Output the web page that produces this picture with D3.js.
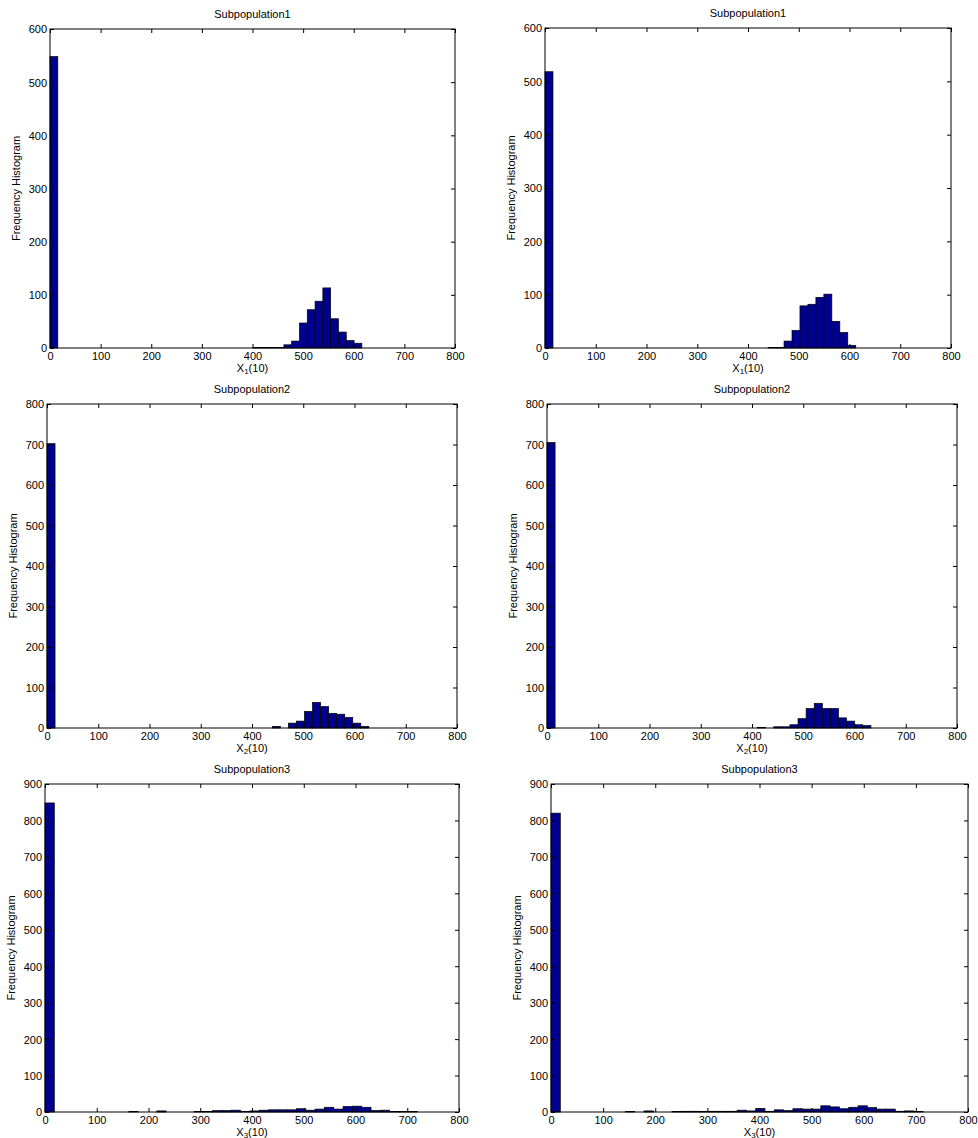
<!DOCTYPE html>
<html>
<head>
<meta charset="utf-8">
<script src="https://cdn.jsdelivr.net/npm/d3@7"></script>
<style>
  body { margin: 0; background: #fff; }
  text { font-family: "Liberation Sans", Arial, Helvetica, sans-serif; fill: #000; }
</style>
</head>
<body>
<svg id="fig" width="978" height="1138"></svg>
<script>
// Histogram counts per bin (bin 0 starts at 0), one array per panel.
const subpop1Left  = [548, 0,0,0,0,0,0,0,0,0, 0,0,0,0,0,0,0,0,0,0, 0,0,0,0,0,0,1,1,1,1, 6,13,47,72,88,113,55,30,14,9];
const subpop1Right = [518, 0,0,0,0,0,0,0,0,0, 0,0,0,0,0,0,0,0,0,0, 0,0,0,0,0,0,0,0,1,1, 13,33,79,82,95,101,50,29,5,0];
const subpop2Left  = [702, 0,0,0,0,0,0,0,0,0, 0,0,0,0,0,0,0,0,0,0, 0,0,0,0,0,0,0,0,4,0, 12,17,41,63,53,36,34,26,12,4];
const subpop2Right = [705, 0,0,0,0,0,0,0,0,0, 0,0,0,0,0,0,0,0,0,0, 0,0,0,0,0,0,1,0,3,3, 8,23,48,61,48,48,25,17,8,6];
const subpop3Left  = [848, 0,0,0,0,0,0,0,0,1, 0,0,3,0,0,0,1,1,4,4, 5,1,3,5,6,6,6,9,5,8, 13,8,15,16,13,4,5,1,1,1];
const subpop3Right = [820, 0,0,0,0,0,0,0,1,0, 3,0,0,1,2,2,1,2,2,2, 5,3,10,2,6,4,9,8,8,17, 14,9,13,17,12,8,8,2,3,1];

// Bin widths (in X units) of each histogram
const binWidths = [15.4, 15.7, 15.7, 15.8, 18, 17.85];

// Axis tick labels
const xTickValues = [0, 100, 200, 300, 400, 500, 600, 700, 800];
const yTicks600 = [0, 100, 200, 300, 400, 500, 600];
const yTicks800 = [0, 100, 200, 300, 400, 500, 600, 700, 800];
const yTicks900 = [0, 100, 200, 300, 400, 500, 600, 700, 800, 900];

const titles = ["Subpopulation1", "Subpopulation1", "Subpopulation2", "Subpopulation2", "Subpopulation3", "Subpopulation3"];
const subscripts = ["1", "1", "2", "2", "3", "3"];
const yLabel = "Frequency Histogram";

// Panel frames (pixel boxes of each axes)
const panels = [
  { counts: subpop1Left,  yTicks: yTicks600, box: [50, 29, 455, 348] },
  { counts: subpop1Right, yTicks: yTicks600, box: [545, 28, 951, 348] },
  { counts: subpop2Left,  yTicks: yTicks800, box: [47, 404, 457, 728] },
  { counts: subpop2Right, yTicks: yTicks800, box: [547, 404, 957, 728] },
  { counts: subpop3Left,  yTicks: yTicks900, box: [45, 784, 459, 1112] },
  { counts: subpop3Right, yTicks: yTicks900, box: [551, 784, 968, 1112] }
];

const svg = d3.select("#fig");
svg.append("rect").attr("width", 978).attr("height", 1138).attr("fill", "#fff");

const barFill = "#00008f";
const tickLen = 4;

panels.forEach((p, k) => {
  const [x0, y0, x1, y1] = p.box;
  const yMax = p.yTicks[p.yTicks.length - 1];
  const x = d3.scaleLinear().domain([0, 800]).range([x0, x1]);
  const y = d3.scaleLinear().domain([0, yMax]).range([y1, y0]);
  const w = binWidths[k];
  const g = svg.append("g");

  // bars
  g.selectAll("rect.bar")
    .data(p.counts.map((c, i) => ({ i, c })).filter(d => d.c > 0))
    .enter().append("rect")
    .attr("class", "bar")
    .attr("x", d => x(d.i * w))
    .attr("width", d => x((d.i + 1) * w) - x(d.i * w))
    .attr("y", d => y(d.c))
    .attr("height", d => y(0) - y(d.c))
    .attr("fill", barFill)
    .attr("stroke", "#000")
    .attr("stroke-width", 0.7);

  // bottom axis (ticks point inward) and mirrored top ticks
  const bottom = g.append("g").attr("transform", `translate(0,${y1})`)
    .call(d3.axisBottom(x).tickValues(xTickValues).tickSize(-tickLen).tickPadding(0).tickFormat(d3.format("d")));
  const top = g.append("g").attr("transform", `translate(0,${y0})`)
    .call(d3.axisTop(x).tickValues(xTickValues).tickSize(-tickLen).tickFormat(""));
  const left = g.append("g").attr("transform", `translate(${x0},0)`)
    .call(d3.axisLeft(y).tickValues(p.yTicks).tickSize(-tickLen).tickPadding(0).tickFormat(d3.format("d")));
  const right = g.append("g").attr("transform", `translate(${x1},0)`)
    .call(d3.axisRight(y).tickValues(p.yTicks).tickSize(-tickLen).tickFormat(""));

  [bottom, top, left, right].forEach(a => {
    a.select(".domain").remove();
    a.selectAll(".tick line").attr("stroke", "#000").attr("stroke-width", 1);
  });
  bottom.selectAll(".tick text")
    .attr("font-size", 11).attr("font-family", "Liberation Sans, Arial, sans-serif")
    .attr("y", 12).attr("dy", null);
  left.selectAll(".tick text")
    .attr("font-size", 11).attr("font-family", "Liberation Sans, Arial, sans-serif")
    .attr("x", -3).attr("dy", "0.36em");
  [top, right].forEach(a => a.selectAll(".tick text").remove());

  // axes box
  g.append("rect")
    .attr("x", x0).attr("y", y0)
    .attr("width", x1 - x0).attr("height", y1 - y0)
    .attr("fill", "none").attr("stroke", "#000").attr("stroke-width", 1);

  // title
  g.append("text")
    .attr("x", (x0 + x1) / 2).attr("y", y0 - 11)
    .attr("text-anchor", "middle").attr("font-size", 11)
    .text(titles[k]);

  // x label with subscript
  const xl = g.append("text")
    .attr("x", (x0 + x1) / 2).attr("y", y1 + 23.5)
    .attr("text-anchor", "middle").attr("font-size", 11);
  xl.append("tspan").text("X");
  xl.append("tspan").attr("font-size", 8).attr("dy", 2).text(subscripts[k]);
  xl.append("tspan").attr("dy", -2).text("(10)");

  // y label
  g.append("text")
    .attr("transform", `translate(${x0 - 30},${(y0 + y1) / 2}) rotate(-90)`)
    .attr("text-anchor", "middle").attr("font-size", 11)
    .text(yLabel);
});
</script>
</body>
</html>
